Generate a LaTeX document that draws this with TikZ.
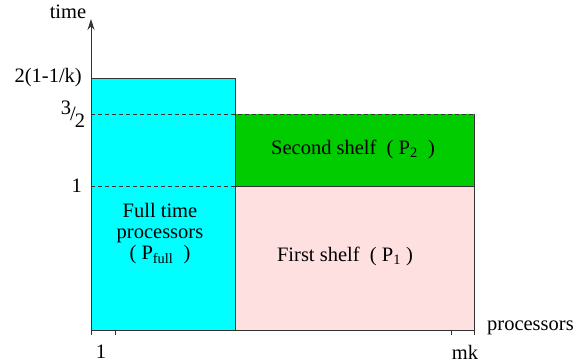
\documentclass[tikz,border=0pt]{standalone}
\usepackage{fontspec}
\setmainfont{Liberation Serif}
\usetikzlibrary{arrows.meta}
\definecolor{fullcyan}{RGB}{0,255,255}
\definecolor{shelfgreen}{RGB}{0,204,0}
\definecolor{shelfpink}{RGB}{255,224,224}
\begin{document}
\begin{tikzpicture}[x=1pt,y=-1pt,
  lbl/.style={font=\fontsize{20.5}{24}\selectfont, inner sep=0pt},
  boxline/.style={draw=black!80, line width=0.8pt},
  dashline/.style={dashed, dash pattern=on 4pt off 3pt, line width=0.7pt, black!80},
  axisline/.style={line width=0.8pt, black!80}]
\useasboundingbox (0,0) rectangle (587,364);
% rectangles
\fill[shelfpink] (235,186) rectangle (474,330);
\fill[shelfgreen] (235,114) rectangle (474,186);
\fill[fullcyan] (91,78) rectangle (235,330);
\draw[boxline] (91,78) -- (235,78) -- (235,330);
\draw[boxline] (235,186) -- (474,186);
\draw[boxline] (474,114) -- (474,330);
\draw[dashline] (91,114) -- (474,114);
\draw[dashline] (91,186) -- (235,186);
% axes
\coordinate (ybot) at (91,335);
\coordinate (ytop) at (91,19);
\coordinate (xl) at (91,330);
\coordinate (xr) at (475,330);
\draw[axisline, -{Stealth[length=11pt,width=7pt]}] (ybot) -- (ytop);
\draw[axisline] (xl) -- (xr);
\foreach \x in {115,451,474} \draw[axisline] (\x,330) -- (\x,335);
% labels
\node[lbl] (time) at (68,12) {time};
\node[lbl, anchor=east] (k) at (82,78) {2(1-1/k)};
\node[lbl] (frac) at (73,114) {\raisebox{6pt}{3}\kern-1pt/\kern-1pt\raisebox{-7pt}{2}};
\node[lbl, anchor=east] (one) at (82,186) {1};
\node[lbl, align=center] (full) at (160,234) {Full time\\[-3pt]processors\\[-3pt]( P\textsubscript{full}\ \ )};
\node[lbl] (second) at (353,149) {Second shelf\ \ ( P\textsubscript{2}\ \ )};
\node[lbl] (first) at (345,256) {First shelf\ \ ( P\textsubscript{1}\ )};
\node[lbl, anchor=west] (proc) at (487,328) {processors};
\node[lbl] (x1) at (101,352) {1};
\node[lbl] (mk) at (465,352) {mk};
\end{tikzpicture}
\end{document}
